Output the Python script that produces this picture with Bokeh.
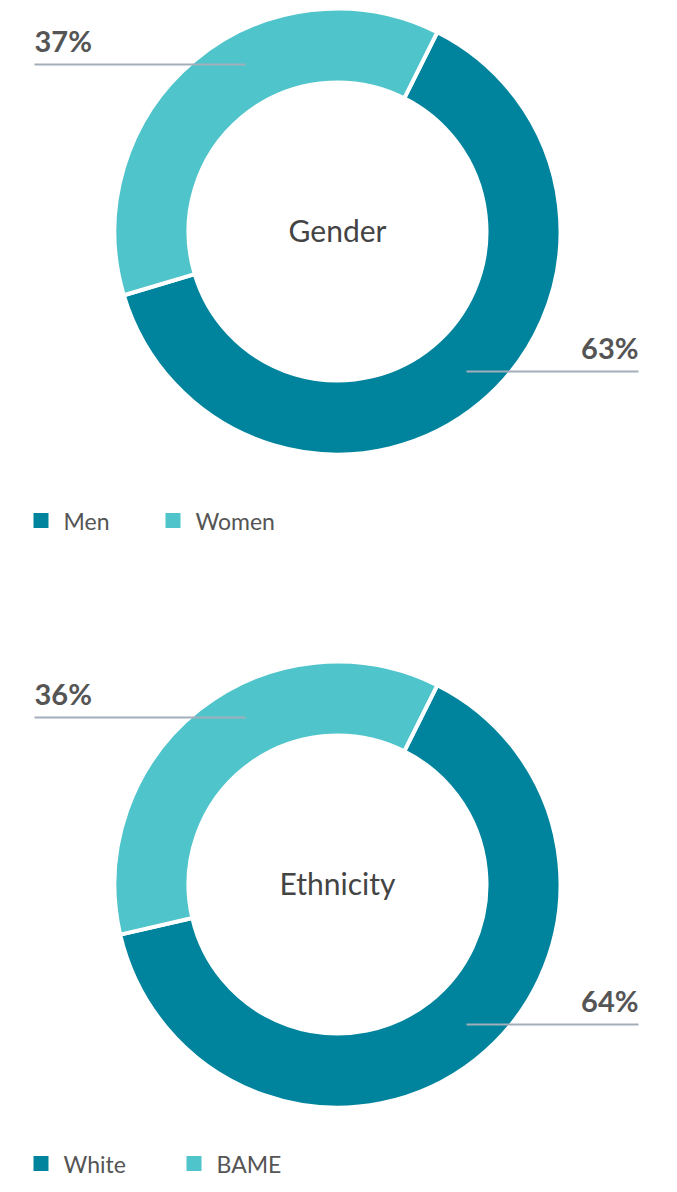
import math
from bokeh.plotting import figure
from bokeh.models import Range1d, ColumnDataSource
from bokeh.core.properties import value
from bokeh.embed import file_html
from bokeh.resources import INLINE

# ---- data ----
gender_labels = ["Men", "Women"]
gender_values = [63, 37]
ethnicity_labels = ["White", "BAME"]
ethnicity_values = [64, 36]
slice_colors = ["#00839c", "#4fc4ca"]
titles = ["Gender", "Ethnicity"]

FONT = "Lato"
W, H = 661, 1176
p = figure(width=W, height=H, output_backend="svg", toolbar_location=None,
           x_range=Range1d(0, W), y_range=Range1d(-H, 0),
           min_border=0, outline_line_color=None)
p.axis.visible = False
p.grid.visible = False
p.background_fill_color = "white"
p.border_fill_color = "white"

START_CW_DEG = 26.6  # clockwise from 12 o'clock


def donut(cy, labels, values, title, label_pos, legend_y, legend_x):
    cx = 337
    total = float(sum(values))
    starts, ends = [], []
    cur = math.radians(90 - START_CW_DEG)
    for v in values:
        starts.append(cur)
        cur = cur - 2 * math.pi * v / total
        ends.append(cur)
    src = ColumnDataSource(dict(x=[cx] * len(values), y=[-cy] * len(values),
                                s=starts, e=ends, c=slice_colors[:len(values)]))
    p.annular_wedge(x="x", y="y", inner_radius=149, outer_radius=223,
                    start_angle="s", end_angle="e", direction="clock",
                    fill_color="c", line_color="white", line_width=4, source=src)
    # center title
    p.text(x=[cx], y=[-(cy - 2)], text=[title], text_font=value(FONT),
           text_font_size="30px", text_color="#444444",
           text_align="center", text_baseline="middle")
    # percentage labels with leader lines
    for (lx0, lx1, ly, align), v in zip(label_pos, values):
        p.segment(x0=[lx0], y0=[-ly], x1=[lx1], y1=[-ly],
                  line_color="#a3aebb", line_width=2)
        tx = lx0 if align == "left" else lx1
        p.text(x=[tx], y=[-(ly - 7)], text=["%d%%" % v], text_font=value(FONT),
               text_font_size="29px", text_font_style="bold", text_color="#555555",
               text_align=align, text_baseline="bottom")
    # legend
    for lab, col, lx in zip(labels, slice_colors, legend_x):
        p.rect(x=[lx + 7.5], y=[-legend_y], width=15, height=15,
               fill_color=col, line_color=None)
        p.text(x=[lx + 30], y=[-legend_y], text=[lab], text_font=value(FONT),
               text_font_size="23px", text_color="#555555",
               text_align="left", text_baseline="middle")


# Men label (right) and Women label (left)
donut(231, gender_labels, gender_values, titles[0],
      [(466, 638, 371, "right"), (34, 245, 64, "left")], 520, [33, 165])
donut(884, ethnicity_labels, ethnicity_values, titles[1],
      [(466, 638, 1024, "right"), (34, 245, 717, "left")], 1163, [33, 186])

open("out.html", "w").write(file_html(p, INLINE))
